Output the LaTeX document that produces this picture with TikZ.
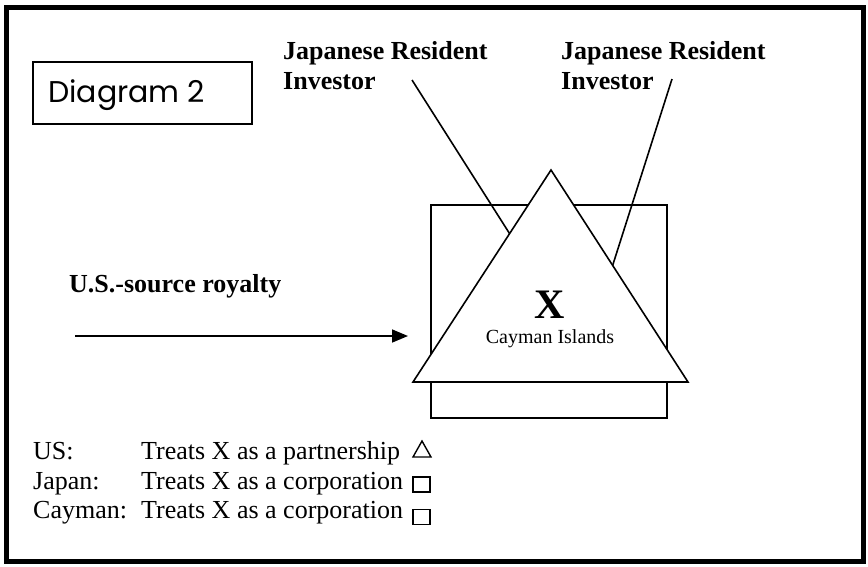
\documentclass[tikz,border=0pt]{standalone}
\usepackage{fontspec}
\setmainfont{Liberation Serif}
\newfontfamily\diagfont{Poppins}
\usetikzlibrary{arrows.meta}
\begin{document}
\begin{tikzpicture}[x=1pt,y=-1pt,
  thinline/.style={line width=1.6pt,line join=miter},
  lbl/.style={inner sep=0pt,anchor=base west,font=\fontsize{26}{30}\selectfont\bfseries},
  legtext/.style={inner sep=0pt,anchor=base west,font=\fontsize{26}{30}\selectfont},
  symbox/.style={draw,line width=1.4pt,minimum width=17pt,minimum height=15pt,inner sep=0pt}]
\useasboundingbox (0,0) rectangle (868,566);
% outer frame
\draw[line width=5pt] (6,7) rectangle (863,561);
% Diagram 2 box
\draw[thinline] (33,62) rectangle (252,124);
\node[inner sep=0pt,anchor=base west,font=\diagfont\fontsize{30}{32}\selectfont] (title) at (48,102) {Diagram 2};
% investor labels
\node[lbl] (inv1a) at (283,59) {Japanese Resident};
\node[lbl] (inv1b) at (283,89) {Investor};
\node[lbl] (inv2a) at (561,59) {Japanese Resident};
\node[lbl] (inv2b) at (561,89) {Investor};
% entity X
\draw[thinline] (431,205) rectangle (667,418);
\coordinate (l1s) at (412,80);
\coordinate (l1e) at (520,250);
\coordinate (l2s) at (672,79);
\coordinate (l2e) at (608,280);
\draw[thinline] (l1s) -- (l1e);
\draw[thinline] (l2s) -- (l2e);
\coordinate (tA) at (551,170);
\coordinate (tL) at (413,382);
\coordinate (tR) at (688,382);
\draw[thinline,fill=white] (tL) -- (tR) -- (tA) -- cycle;
\node[inner sep=0pt,font=\fontsize{42}{44}\selectfont\bfseries] (X) at (550,305) {X};
\node[inner sep=0pt,font=\fontsize{20}{22}\selectfont] (cay) at (550,339) {Cayman Islands};
% royalty
\node[lbl] (roy) at (69,292) {U.S.-source royalty};
\coordinate (arrs) at (75,336);
\coordinate (arre) at (408,336);
\draw[line width=1.6pt,-{Triangle[length=16pt,width=13pt]}] (arrs) -- (arre);
% legend
\node[legtext] (us) at (33,459) {US:};
\node[legtext] (ust) at (141,459) {Treats X as a partnership};
\node[legtext] (jp) at (33,489) {Japan:};
\node[legtext] (jpt) at (141,489) {Treats X as a corporation};
\node[legtext] (cy) at (33,518) {Cayman:};
\node[legtext] (cyt) at (141,518) {Treats X as a corporation};
\coordinate (s1) at (413,457);
\coordinate (s2) at (431,457);
\coordinate (s3) at (422,441);
\draw[line width=1.4pt] (s1) -- (s2) -- (s3) -- cycle;
\node[symbox] (jpbox) at (421.5,484.5) {};
\node[symbox] (cybox) at (421.5,517) {};
\end{tikzpicture}
\end{document}
